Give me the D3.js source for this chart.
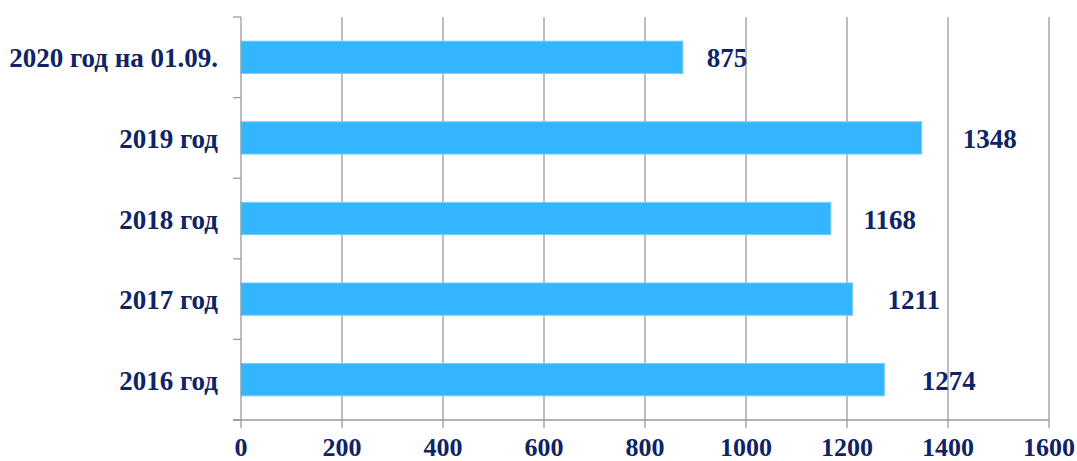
<!DOCTYPE html>
<html>
<head>
<meta charset="utf-8">
<script src="https://cdn.jsdelivr.net/npm/d3@7"></script>
<style>
  html, body { margin: 0; padding: 0; background: #fff; }
  svg { display: block; }
  text { font-family: "Liberation Serif", "Times New Roman", serif; font-weight: bold; fill: #0f2464; }
</style>
</head>
<body>
<svg id="chart" width="1077" height="461"></svg>
<script>
// Data
const categories = ["2020 год на 01.09.", "2019 год", "2018 год", "2017 год", "2016 год"];
const values = [875, 1348, 1168, 1211, 1274];
const xTicks = [0, 200, 400, 600, 800, 1000, 1200, 1400, 1600];

(function () {
const svg = d3.select("#chart");
const mLeft = 241, mRight = 1049, mTop = 17, mBottom = 420;

const x = d3.scaleLinear().domain([0, 1600]).range([mLeft, mRight]);
const y = d3.scaleBand().domain(categories).range([mTop, mBottom]).paddingInner(0.6).paddingOuter(0.3);
const step = y.step();
const gridColor = "#9a9a9a";

// vertical gridlines
svg.append("g").selectAll("line").data(xTicks.filter(d => d > 0)).join("line")
  .attr("x1", d => x(d)).attr("x2", d => x(d))
  .attr("y1", mTop).attr("y2", mBottom)
  .attr("stroke", gridColor).attr("stroke-width", 1.3);

// bars
svg.append("g").selectAll("rect").data(categories).join("rect")
  .attr("x", x(0))
  .attr("y", d => y(d))
  .attr("width", (d, i) => x(values[i]) - x(0))
  .attr("height", y.bandwidth())
  .attr("fill", "#33b5ff")
  .attr("stroke", "#70ccff").attr("stroke-width", 1);

// y axis line + ticks at band boundaries
svg.append("line").attr("x1", x(0)).attr("x2", x(0)).attr("y1", mTop).attr("y2", mBottom)
  .attr("stroke", gridColor).attr("stroke-width", 1.3);
const boundaries = categories.map(c => y(c) - step * 0.3).concat([mBottom]);
svg.append("g").selectAll("line").data(boundaries).join("line")
  .attr("x1", x(0) - 8).attr("x2", x(0))
  .attr("y1", d => d).attr("y2", d => d)
  .attr("stroke", gridColor).attr("stroke-width", 1.3);

// x axis line + ticks
svg.append("line").attr("x1", x(0) - 8).attr("x2", x(1600)).attr("y1", mBottom).attr("y2", mBottom)
  .attr("stroke", gridColor).attr("stroke-width", 1.3);
svg.append("g").selectAll("line").data(xTicks).join("line")
  .attr("x1", d => x(d)).attr("x2", d => x(d))
  .attr("y1", mBottom).attr("y2", mBottom + 8)
  .attr("stroke", gridColor).attr("stroke-width", 1.3);

// x tick labels
svg.append("g").selectAll("text").data(xTicks).join("text")
  .attr("x", d => x(d)).attr("y", 456)
  .attr("text-anchor", "middle")
  .style("font-size", "26px")
  .text(d => d);

// category labels
svg.append("g").selectAll("text").data(categories).join("text")
  .attr("x", 218)
  .attr("y", d => y(d) + y.bandwidth() / 2 + 10)
  .attr("text-anchor", "end")
  .style("font-size", "27px")
  .text(d => d);

// value labels
svg.append("g").selectAll("text").data(categories).join("text")
  .attr("x", (d, i) => x(values[i] * 1.1))
  .attr("y", d => y(d) + y.bandwidth() / 2 + 10)
  .attr("text-anchor", "middle")
  .style("font-size", "27px")
  .text((d, i) => values[i]);
})();
</script>
</body>
</html>
